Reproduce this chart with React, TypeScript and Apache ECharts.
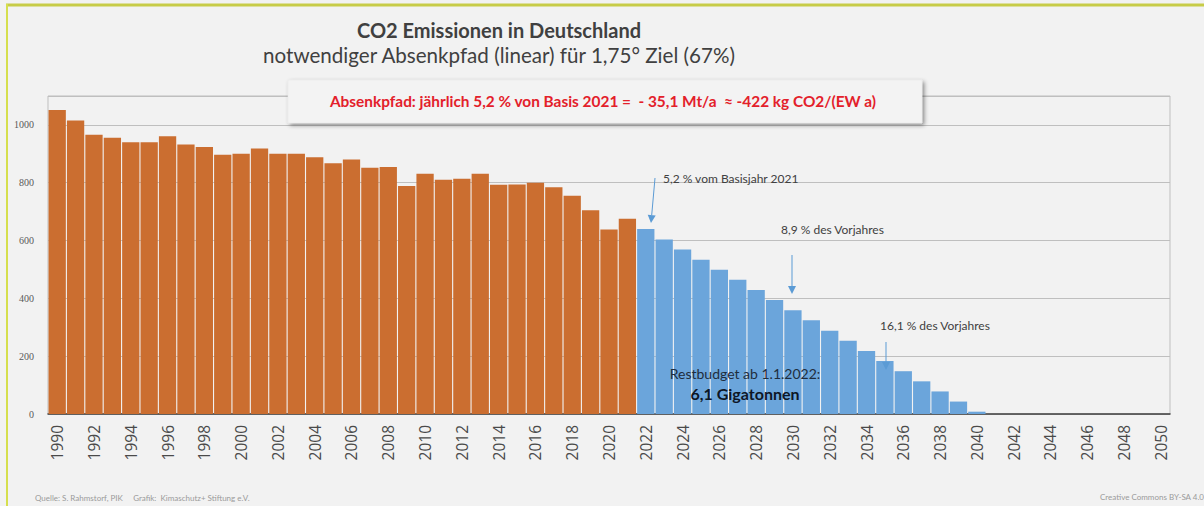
import { useEffect, useRef } from 'react';
import * as echarts from 'echarts';

const years = [
  '1990', '1991', '1992', '1993', '1994', '1995', '1996', '1997', '1998', '1999',
  '2000', '2001', '2002', '2003', '2004', '2005', '2006', '2007', '2008', '2009',
  '2010', '2011', '2012', '2013', '2014', '2015', '2016', '2017', '2018', '2019',
  '2020', '2021', '2022', '2023', '2024', '2025', '2026', '2027', '2028', '2029',
  '2030', '2031', '2032', '2033', '2034', '2035', '2036', '2037', '2038', '2039',
  '2040', '2041', '2042', '2043', '2044', '2045', '2046', '2047', '2048', '2049',
  '2050',
];

// Historical emissions 1990–2021 (Mt CO2)
const historical = [
  1052, 1015, 966, 956, 940, 940, 961, 932, 924, 897,
  900, 918, 900, 900, 888, 867, 880, 852, 854, 789,
  831, 810, 814, 831, 793, 794, 800, 784, 755, 705,
  638, 675,
];

// Required reduction path 2022–2050 (Mt CO2)
const pathway = [
  640, 604, 569, 534, 499, 464, 429, 394, 359, 324,
  288, 253, 218, 183, 148, 113, 78, 43, 8, 0,
  0, 0, 0, 0, 0, 0, 0, 0, 0,
];

const ORANGE = '#cb6e30';
const BLUE = '#6ba5db';
const FONT = 'Lato';

export default function App() {
  const ref = useRef<HTMLDivElement>(null);

  useEffect(() => {
    const chart = echarts.init(ref.current!, null, { renderer: 'svg' });
    const n = historical.length;
    const histData = years.map((_, i) => (i < n ? historical[i] : null));
    const pathData = years.map((_, i) => (i >= n ? pathway[i - n] : null));

    const arrow = (x1: number, y1: number, x2: number, y2: number) => {
      const dx = x2 - x1;
      const dy = y2 - y1;
      const len = Math.sqrt(dx * dx + dy * dy);
      const ux = dx / len;
      const uy = dy / len;
      const hl = 8;
      const hw = 4;
      const bx = x2 - ux * hl;
      const by = y2 - uy * hl;
      return [
        {
          type: 'line',
          shape: { x1, y1, x2: bx, y2: by },
          style: { stroke: '#5b9bd5', lineWidth: 1 },
          z: 100,
        },
        {
          type: 'polygon',
          shape: {
            points: [
              [x2, y2],
              [bx - uy * hw, by + ux * hw],
              [bx + uy * hw, by - ux * hw],
            ],
          },
          style: { fill: '#5b9bd5' },
          z: 100,
        },
      ];
    };

    const text = (
      t: string,
      x: number,
      y: number,
      size: number,
      color: string,
      weight: string = 'normal',
      align: string = 'left',
      family: string = FONT
    ) => ({
      type: 'text',
      x,
      y,
      z: 110,
      style: {
        text: t,
        fontSize: size,
        fontWeight: weight,
        fontFamily: family,
        fill: color,
        textAlign: align,
        textVerticalAlign: 'middle',
      },
    });

    chart.setOption({
      animation: false,
      backgroundColor: '#f2f2f2',
      grid: {
        left: 48,
        right: 34,
        top: 96,
        bottom: 92,
        show: true,
        borderColor: '#bfbfbf',
        borderWidth: 1,
        backgroundColor: 'transparent',
      },
      xAxis: {
        type: 'category',
        data: years,
        boundaryGap: true,
        axisLine: { lineStyle: { color: '#404040', width: 1.5 } },
        axisTick: {
          interval: 0,
          length: 5,
          lineStyle: { color: '#404040', width: 1.2 },
        },
        axisLabel: {
          interval: 1,
          rotate: 90,
          fontSize: 15.5,
          fontFamily: 'Open Sans',
          color: '#4a4a4a',
          margin: 11,
        },
      },
      yAxis: {
        type: 'value',
        min: 0,
        max: 1100,
        interval: 200,
        axisLine: { show: false },
        axisTick: { show: false },
        splitLine: { lineStyle: { color: '#bfbfbf', width: 1 } },
        axisLabel: {
          fontSize: 10,
          fontFamily: 'Liberation Serif',
          color: '#595959',
          margin: 14,
          formatter: (v: number) => (v > 1000 ? '' : String(v)),
        },
      },
      series: [
        {
          name: 'Emissionen',
          type: 'bar',
          data: histData,
          barCategoryGap: '6%',
          barGap: '-100%',
          itemStyle: { color: ORANGE },
        },
        {
          name: 'Absenkpfad',
          type: 'bar',
          data: pathData,
          barCategoryGap: '6%',
          barGap: '-100%',
          itemStyle: { color: BLUE },
        },
      ],
      graphic: [
        // frame
        {
          type: 'line',
          shape: { x1: 6, y1: 5, x2: 1204, y2: 5 },
          style: { stroke: '#c7cc48', lineWidth: 3 },
        },
        {
          type: 'line',
          shape: { x1: 7, y1: 4, x2: 7, y2: 506 },
          style: { stroke: '#d6df4e', lineWidth: 2 },
        },
        // titles
        text('CO2 Emissionen in Deutschland', 499, 30, 20, '#404040', 'bold', 'center'),
        text('notwendiger Absenkpfad (linear) für 1,75° Ziel (67%)', 499, 55, 20.6, '#404040', 'normal', 'center'),
        // box
        {
          type: 'rect',
          shape: { x: 288, y: 80, width: 634, height: 43 },
          style: {
            fill: '#f3f3f3',
            stroke: '#e6e6e6',
            lineWidth: 0.5,
            shadowBlur: 4,
            shadowOffsetX: 2,
            shadowOffsetY: 2,
            shadowColor: 'rgba(0,0,0,0.45)',
          },
          z: 90,
        },
        text(
          'Absenkpfad: jährlich 5,2 % von Basis 2021 =  - 35,1 Mt/a  ≈ -422 kg CO2/(EW a)',
          603,
          101,
          15.4,
          '#e3202a',
          'bold',
          'center'
        ),
        // annotations
        text('5,2 % vom Basisjahr 2021', 663, 178, 12, '#404040'),
        ...arrow(655, 178, 651, 223),
        text('8,9 % des Vorjahres', 781, 229, 12, '#404040'),
        ...arrow(792, 255, 792, 294),
        text('16,1 % des Vorjahres', 880, 325, 12, '#404040'),
        ...arrow(886, 342, 886, 370),
        text('Restbudget ab 1.1.2022:', 745, 373, 14, '#1f2d3d', 'normal', 'center'),
        text('6,1 Gigatonnen', 745, 393, 16, '#0d1626', 'bold', 'center'),
        // footer
        text('Quelle: S. Rahmstorf, PIK     Grafik:  Kimaschutz+ Stiftung e.V.', 35, 498, 8, '#9a9a9a'),
        text('Creative Commons BY-SA 4.0', 1204, 497, 8, '#9a9a9a', 'normal', 'right'),
      ],
    });

    return () => {
      chart.dispose();
    };
  }, []);

  return (
    <div
      ref={ref}
      style={{ position: 'fixed', left: 0, top: 0, width: 1204, height: 506 }}
    />
  );
}
